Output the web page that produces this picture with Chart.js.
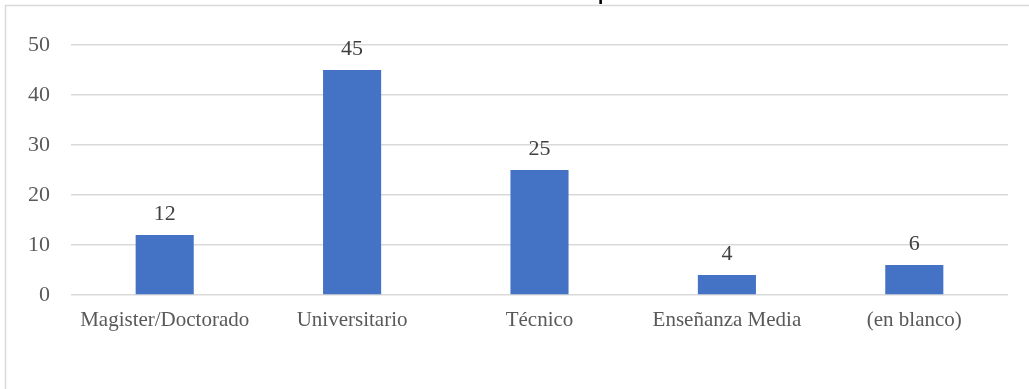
<!DOCTYPE html>
<html>
<head>
<meta charset="utf-8">
<script src="https://cdn.jsdelivr.net/npm/chart.js@4/dist/chart.umd.min.js"></script>
<style>
  html, body { margin: 0; padding: 0; background: #ffffff; overflow: hidden; }
  #wrap { width: 1029px; height: 389px; position: relative; }
</style>
</head>
<body>
<div id="wrap"><canvas id="nivelChart"></canvas></div>
<script>
const categorias = ['Magister/Doctorado', 'Universitario', 'Técnico', 'Enseñanza Media', '(en blanco)'];
const cantidades = [12, 45, 25, 4, 6];
const ticksY = [0, 10, 20, 30, 40, 50];

const serif = "'Liberation Serif', 'Times New Roman', serif";

// marco del gráfico y resto del título que queda por encima
const marco = {
    id: 'marco',
    beforeDraw(chart) {
        const ctx = chart.ctx;
        ctx.save();
        ctx.strokeStyle = '#d9d9d9';
        ctx.lineWidth = 1.5;
        ctx.beginPath();
        ctx.moveTo(5.5, chart.height);
        ctx.lineTo(5.5, 5.5);
        ctx.lineTo(chart.width, 5.5);
        ctx.stroke();
        ctx.fillStyle = '#000000';
        ctx.font = "bold 19px 'Liberation Sans', Arial, sans-serif";
        ctx.textBaseline = 'alphabetic';
        ctx.fillText('p', 598, 0);
        ctx.restore();
    }
};

// etiqueta con el valor encima de cada barra
const etiquetas = {
    id: 'etiquetas',
    afterDatasetsDraw(chart) {
        const ctx = chart.ctx;
        const meta = chart.getDatasetMeta(0);
        ctx.save();
        ctx.fillStyle = '#404040';
        ctx.font = '22px ' + serif;
        ctx.textAlign = 'center';
        ctx.textBaseline = 'alphabetic';
        meta.data.forEach((bar, i) => {
            ctx.fillText(String(cantidades[i]), bar.x, bar.y - 15);
        });
        ctx.restore();
    }
};

new Chart(document.getElementById('nivelChart'), {
    type: 'bar',
    data: {
        labels: categorias,
        datasets: [{
            data: cantidades,
            backgroundColor: '#4472c4',
            borderWidth: 0,
            barPercentage: 0.31,
            categoryPercentage: 1
        }]
    },
    options: {
        responsive: true,
        maintainAspectRatio: false,
        animation: false,
        layout: { padding: { top: 45, right: 21, bottom: 0, left: 0 } },
        plugins: {
            legend: { display: false },
            tooltip: { enabled: false }
        },
        scales: {
            x: {
                grid: { display: false, drawTicks: false },
                border: { display: false },
                ticks: {
                    color: '#595959',
                    font: { family: serif, size: 21 },
                    padding: 13,
                    maxRotation: 0,
                    autoSkip: false
                },
                afterFit(axis) { axis.height = 94; }
            },
            y: {
                min: 0,
                max: 50,
                afterBuildTicks(axis) { axis.ticks = ticksY.map(v => ({ value: v })); },
                grid: { color: '#d9d9d9', lineWidth: 1.5, drawTicks: false },
                border: { display: false },
                ticks: {
                    color: '#595959',
                    font: { family: serif, size: 22 },
                    padding: 21
                },
                afterFit(axis) { axis.width = 71; }
            }
        }
    },
    plugins: [marco, etiquetas]
});
</script>
</body>
</html>
